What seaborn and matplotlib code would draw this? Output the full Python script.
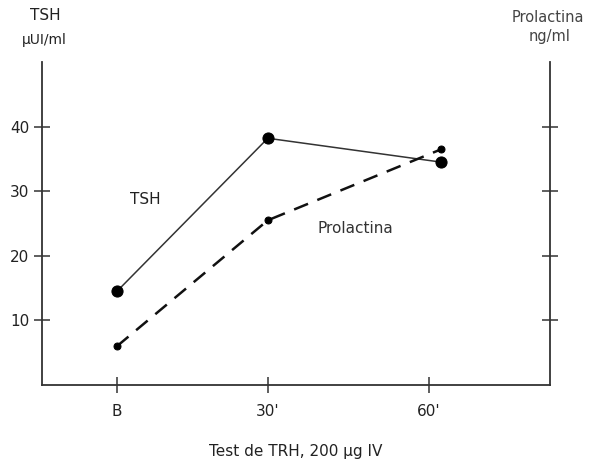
import pandas as pd
import seaborn as sns
import matplotlib.pyplot as plt

# values
time_labels = ["B", "30'", "60'"]
tick_pos = [0, 30, 62]
point_pos = [0, 30, 64.5]
tsh = [14.5, 38.2, 34.5]
prolactina = [6.0, 25.5, 36.5]

sns.set_style("white")
plt.rcParams['font.family'] = ['DejaVu Sans']
ink = '#222222'

df = pd.DataFrame({
    'x': point_pos * 2,
    'valor': tsh + prolactina,
    'serie': ['TSH'] * 3 + ['Prolactina'] * 3,
})

fig = plt.figure(figsize=(5.99, 4.63), dpi=100)
ax = fig.add_axes([0.0701, 0.1685, 0.8480, 0.6975])

sns.lineplot(data=df[df['serie'] == 'TSH'], x='x', y='valor', ax=ax,
             color='#333333', lw=1.1, marker='o', markersize=8,
             markeredgecolor='black', markerfacecolor='black')
sns.lineplot(data=df[df['serie'] == 'Prolactina'], x='x', y='valor', ax=ax,
             color='#111111', lw=1.8, marker='o', markersize=5,
             markeredgecolor='black', markerfacecolor='black',
             dashes=False, linestyle=(0, (6, 4)))

ax.set_xlim(-14.9, 86.1)
ax.set_ylim(0, 50)
ax.set_xticks(tick_pos)
ax.set_xticklabels(time_labels)
ax.set_yticks([10, 20, 30, 40])
ax.set_xlabel('Test de TRH, 200 µg IV', fontsize=11, color=ink, labelpad=18)
ax.set_ylabel('')

for side in ['left', 'right', 'bottom']:
    ax.spines[side].set_color('#333333')
    ax.spines[side].set_linewidth(1.3)
ax.spines['top'].set_visible(False)

ax.tick_params(axis='both', direction='inout', length=12, width=1.1,
               colors='#333333', labelsize=11, labelcolor=ink)
ax.tick_params(axis='y', left=True, right=True, labelright=False, pad=3)
ax.tick_params(axis='x', bottom=True, pad=8)

ax.text(0.173, 0.573, 'TSH', transform=ax.transAxes, fontsize=11,
        color=ink, va='center')
ax.text(0.543, 0.486, 'Prolactina', transform=ax.transAxes, fontsize=11,
        color='#333333', va='center')

fig.text(0.075, 0.967, 'TSH', ha='center', va='center', fontsize=11, color=ink)
fig.text(0.074, 0.913, 'µUI/ml', ha='center', va='center', fontsize=10, color=ink)
fig.text(0.914, 0.963, 'Prolactina', ha='center', va='center', fontsize=10.5, color='#444444')
fig.text(0.917, 0.922, 'ng/ml', ha='center', va='center', fontsize=10.5, color='#444444')

fig.savefig('out.png', dpi=100)
